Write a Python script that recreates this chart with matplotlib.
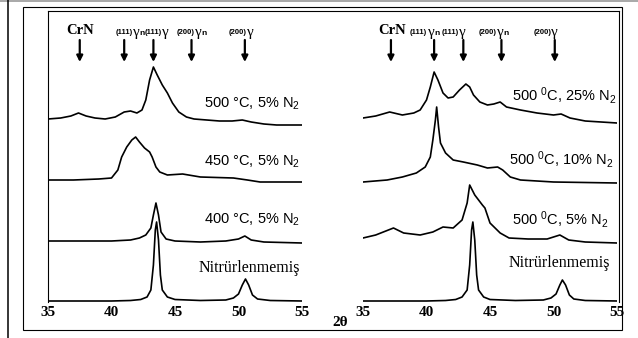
import matplotlib
matplotlib.use("Agg")
import matplotlib.pyplot as plt
from matplotlib.lines import Line2D
from matplotlib.patches import Rectangle

plt.rcParams["mathtext.fontset"] = "custom"
plt.rcParams["mathtext.rm"] = "Liberation Sans"
plt.rcParams["mathtext.it"] = "Liberation Sans:italic"
plt.rcParams["mathtext.bf"] = "Liberation Sans:bold"

W, H = 638, 338

# --- XRD patterns, 2theta (deg) and intensity (a.u., above each curve's own baseline) ---
# left panel: 5% N2 at different temperatures
tt_500c = [35.0, 36.0, 36.8, 37.4, 38.0, 38.7, 39.5, 40.3, 41.0, 41.5, 42.0, 42.4, 42.7, 43.0,
           43.3, 43.6, 44.0, 44.4, 44.8, 45.3, 45.9, 46.5, 47.5, 48.5, 49.5, 50.3, 51.0, 52.0,
           53.0, 54.0, 55.0]
i_500c = [6, 7, 9, 12, 9, 7, 6, 8, 13, 14, 12, 15, 25, 45,
          58, 50, 40, 32, 22, 13, 8, 6, 5, 4, 4, 5, 3, 1,
          0, 0, 0]

tt_450c = [35.0, 37.0, 39.0, 40.0, 40.5, 40.8, 41.2, 41.6, 41.9, 42.2, 42.6, 43.0, 43.2, 43.5,
           43.8, 44.4, 45.6, 47.0, 49.6, 50.7, 51.7, 55.0]
i_450c = [2, 2, 3, 4, 12, 25, 35, 42, 45, 40, 34, 30, 25, 15,
          10, 7, 8, 5, 4, 2, 0, 0]

tt_400c = [35.0, 40.0, 41.5, 42.2, 42.7, 43.1, 43.3, 43.5, 43.7, 43.9, 44.3, 45.0, 47.0, 49.0,
           50.0, 50.5, 51.0, 52.0, 55.0]
i_400c = [2, 2, 3, 5, 8, 15, 28, 40, 28, 11, 4, 2, 1, 2,
          4, 7, 3, 1, 0]

tt_raw_l = [35.0, 40.0, 41.5, 42.3, 42.8, 43.1, 43.3, 43.45, 43.55, 43.7, 43.85, 44.0, 44.4, 45.0,
            47.0, 49.0, 49.6, 50.0, 50.3, 50.55, 50.8, 51.1, 51.5, 52.5, 55.0]
i_raw_l = [1, 1, 1.5, 2.5, 5, 12, 37, 72, 80, 62, 27, 12, 5, 2.5,
           1.5, 2, 4, 8, 17, 23, 17, 7, 3, 1.5, 1]

# right panel: 500 C at different N2 contents
tt_25n = [35.0, 36.0, 37.1, 38.1, 39.0, 39.5, 40.0, 40.3, 40.6, 40.9, 41.3, 41.7, 42.1, 42.6,
          43.1, 43.4, 43.7, 44.2, 44.8, 45.3, 45.8, 46.3, 47.4, 48.7, 50.0, 50.6, 51.3, 52.5,
          55.0]
i_25n = [5, 7, 11, 8, 10, 13, 23, 36, 51, 43, 30, 25, 26, 33,
         39, 36, 28, 21, 18, 19, 21, 16, 13, 10, 8, 9, 5, 2,
         0]

tt_10n = [35.0, 36.9, 38.1, 39.2, 39.9, 40.3, 40.5, 40.7, 40.8, 40.95, 41.1, 41.5, 42.1, 42.9,
          44.0, 44.8, 45.6, 46.0, 46.6, 47.4, 50.0, 55.0]
i_10n = [1, 3, 6, 10, 16, 26, 43, 63, 76, 56, 40, 30, 23, 21,
         18, 15, 16, 13, 6, 3, 1, 0]

tt_5n = [35.0, 36.0, 37.4, 38.2, 39.5, 40.5, 41.3, 42.1, 42.8, 43.2, 43.4, 43.8, 44.4, 44.6,
         45.0, 45.8, 46.5, 48.0, 49.5, 50.5, 51.2, 52.5, 55.0]
i_5n = [5, 8, 15, 10, 8, 11, 16, 15, 23, 40, 58, 48, 38, 35,
        20, 10, 5, 4, 4, 8, 3, 1, 0]

tt_raw_r = [35.0, 40.0, 41.5, 42.3, 42.8, 43.2, 43.4, 43.55, 43.65, 43.8, 43.95, 44.1, 44.5, 45.0,
            47.0, 49.2, 49.8, 50.2, 50.5, 50.7, 50.95, 51.25, 51.6, 52.5, 55.0]
i_raw_r = [1, 1, 1.5, 2.5, 5, 12, 37, 72, 80, 62, 27, 12, 5, 2.5,
           1.5, 2, 4, 8, 17, 22, 17, 7, 3, 1.5, 1]

left_labels = ["500 °C, 5% N$_2$", "450 °C, 5% N$_2$", "400 °C, 5% N$_2$", "Nitrürlenmemiş"]
right_labels = ["500 $^0$C, 25% N$_2$", "500 $^0$C, 10% N$_2$", "500 $^0$C, 5% N$_2$", "Nitrürlenmemiş"]

# reflection markers
ref_hkl = ["CrN", "(111)", "(111)", "(200)", "(200)"]
ref_sub = ["", "n", "", "n", ""]
left_marks = [37.5, 41.0, 43.3, 46.3, 50.5]
right_marks = [37.2, 40.6, 42.9, 45.9, 50.1]
xticks = [35, 40, 45, 50, 55]


def fx(px):
    return px / W


def fy(py):
    return 1 - py / H


def draw_panel(ax, traces, offsets, labels, label_xy, marks, name_x):
    for (tt, inten), off in zip(traces, offsets):
        ax.plot(tt, [v + off for v in inten], color="black", lw=1.2)

    for text, (lx, ly) in zip(labels, label_xy):
        if text.startswith("Nitr"):
            ax.text(lx, ly, text, ha="right", va="center", fontsize=11.5,
                    family="Liberation Serif")
        else:
            ax.text(lx, ly, text, ha="right", va="center", fontsize=10.5,
                    family="Liberation Sans")

    for hkl, sub, x, nx in zip(ref_hkl, ref_sub, marks, name_x):
        ax.annotate("", xy=(x, 240), xytext=(x, 262),
                    arrowprops=dict(arrowstyle="-|>", color="black", lw=1.6,
                                    mutation_scale=9, shrinkA=0, shrinkB=0))
        if hkl == "CrN":
            ax.text(nx, 268, hkl, ha="center", va="baseline", fontsize=10.5,
                    family="Liberation Serif", weight="bold")
            continue
        t = ax.text(nx, 268, hkl, ha="left", va="baseline", fontsize=5.5,
                    family="Liberation Sans", weight="bold")
        g = ax.annotate("γ", xy=(1.0, 0.0), xycoords=t, xytext=(0.2, -2.0),
                        textcoords="offset points", ha="left", va="bottom",
                        fontsize=11, family="Liberation Serif")
        if sub:
            ax.annotate(sub, xy=(1.0, 0.0), xycoords=g, xytext=(0.0, 1.0),
                        textcoords="offset points", ha="left", va="bottom",
                        fontsize=6, family="Liberation Sans", weight="bold")

    ax.set_xlim(35, 55)
    ax.set_ylim(0, 291)
    ax.set_frame_on(False)
    ax.set_yticks([])
    ax.set_xticks(xticks)
    ax.tick_params(axis="x", length=0, pad=3, labelsize=11)
    for lbl in ax.get_xticklabels():
        lbl.set_fontfamily("Liberation Serif")
        lbl.set_fontweight("bold")
    ax.patch.set_visible(False)


fig = plt.figure(figsize=(W / 100, H / 100), dpi=100)

# outer page lines and inner box
fig.add_artist(Line2D([0, 1], [fy(0.5), fy(0.5)], transform=fig.transFigure,
                      color="#9a9a9a", lw=1.2))
fig.add_artist(Line2D([fx(7.5), fx(7.5)], [0, 1], transform=fig.transFigure,
                      color="black", lw=1.1))
fig.add_artist(Rectangle((fx(23), fy(330)), fx(622) - fx(23), fy(7) - fy(330),
                         transform=fig.transFigure, fill=False, ec="black", lw=0.8))

# shared plot box, open at the bottom
frame = fig.add_axes([fx(48), fy(302), fx(619) - fx(48), fy(11) - fy(302)])
frame.set_xticks([])
frame.set_yticks([])
frame.spines["bottom"].set_visible(False)
for s in ["top", "left", "right"]:
    frame.spines[s].set_linewidth(0.8)
frame.patch.set_visible(False)

ax_l = fig.add_axes([fx(48), fy(302), fx(302) - fx(48), fy(11) - fy(302)])
ax_r = fig.add_axes([fx(363), fy(302), fx(617) - fx(363), fy(11) - fy(302)])

draw_panel(ax_l,
           [(tt_500c, i_500c), (tt_450c, i_450c), (tt_400c, i_400c), (tt_raw_l, i_raw_l)],
           [177, 120, 59, 0], left_labels,
           [(54.85, 198), (54.85, 140), (54.85, 82), (54.85, 34)], left_marks,
           [37.5, 40.3, 42.6, 45.1, 49.2])
draw_panel(ax_r,
           [(tt_25n, i_25n), (tt_10n, i_10n), (tt_5n, i_5n), (tt_raw_r, i_raw_r)],
           [179, 119, 59, 0], right_labels,
           [(55.0, 206), (54.7, 142), (54.3, 83), (54.45, 39)], right_marks,
           [37.3, 38.7, 41.2, 44.1, 48.4])

fig.text(fx(340), fy(322), "2θ", ha="center", va="center", fontsize=11,
         family="Liberation Serif", weight="bold")

fig.savefig("out.png", dpi=100)
